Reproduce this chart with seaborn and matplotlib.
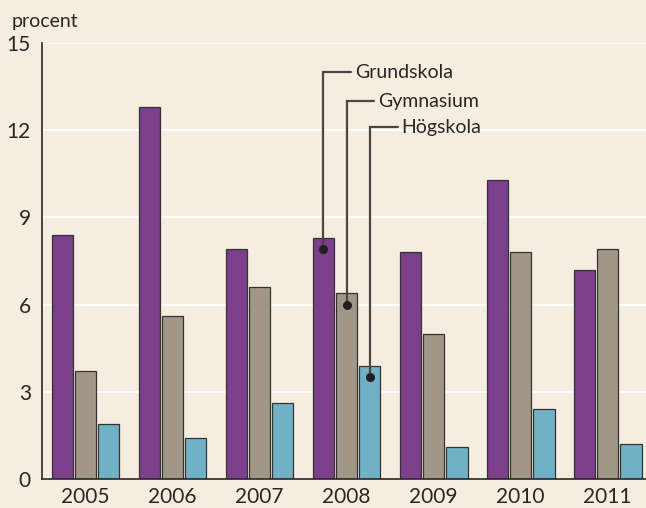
import matplotlib
matplotlib.use("Agg")
import matplotlib.pyplot as plt
import seaborn as sns
import pandas as pd

years = ["2005", "2006", "2007", "2008", "2009", "2010", "2011"]
grundskola = [8.4, 12.8, 7.9, 8.3, 7.8, 10.3, 7.2]
gymnasium = [3.7, 5.6, 6.6, 6.4, 5.0, 7.8, 7.9]
hogskola = [1.9, 1.4, 2.6, 3.9, 1.1, 2.4, 1.2]
series = ["Grundskola", "Gymnasium", "Högskola"]
colors = ["#7b3f8c", "#a09787", "#70b1c5"]
yticks = [0, 3, 6, 9, 12, 15]

bg = "#f5eddf"
ink = "#2b2626"

sns.set_theme(style="white")
plt.rcParams["font.family"] = ["Lato", "DejaVu Sans"]

df = pd.DataFrame({
    "year": years * 3,
    "value": grundskola + gymnasium + hogskola,
    "serie": [s for s in series for _ in years],
})

fig = plt.figure(figsize=(6.46, 5.08), dpi=100, facecolor=bg)
ax = fig.add_axes([42 / 646, 29 / 508, 604 / 646, 436 / 508])
ax.set_facecolor(bg)

sns.barplot(data=df, x="year", y="value", hue="serie", hue_order=series,
            palette=colors, width=0.8, gap=0.08, edgecolor="#333333",
            linewidth=0.9, saturation=1, legend=False, ax=ax)

ax.set_ylim(0, 15)
ax.set_xlim(-0.5, 6.44)
ax.set_yticks(yticks)
ax.yaxis.grid(True, color="white", linewidth=1.3)
ax.set_axisbelow(True)
for side in ["top", "right"]:
    ax.spines[side].set_visible(False)
for side in ["left", "bottom"]:
    ax.spines[side].set_color(ink)
    ax.spines[side].set_linewidth(1.2)
ax.tick_params(axis="both", length=0, labelsize=15, colors=ink)
ax.tick_params(axis="y", pad=8)
ax.tick_params(axis="x", pad=6)
ax.set_xlabel("")
ax.set_ylabel("")

fig.text(12 / 646, 1 - 27 / 508, "procent", fontsize=14, color=ink,
         va="baseline", ha="left")

# callouts on the 2008 bars
idx = years.index("2008")
label_y = [14.0, 13.0, 12.1]
n = len(years)
for k, name in enumerate(series):
    bar = ax.patches[k * n + idx]
    cx = bar.get_x() + bar.get_width() / 2
    dot_y = bar.get_height() - 0.4
    seg = 0.32
    ax.plot([cx, cx, cx + seg], [dot_y, label_y[k], label_y[k]],
            color="#4a4646", linewidth=1.6, solid_joinstyle="miter", zorder=5)
    ax.plot(cx, dot_y, "o", color="#231f20", markersize=5.5, zorder=6)
    ax.text(cx + seg + 0.04, label_y[k], name, fontsize=14, color=ink,
            va="center", ha="left", zorder=6)

fig.savefig("out.png", dpi=100, facecolor=bg)
